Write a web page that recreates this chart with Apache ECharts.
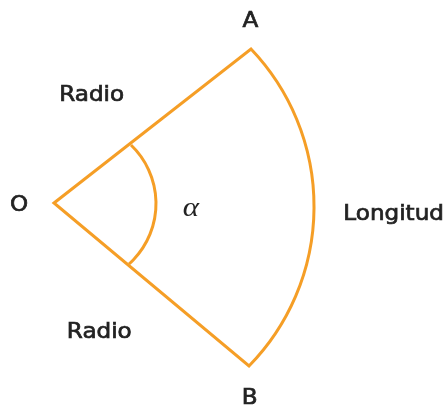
<!DOCTYPE html>
<html>
<head>
<meta charset="utf-8">
<script src="https://cdn.jsdelivr.net/npm/echarts@6/dist/echarts.min.js"></script>
<style>
html,body{margin:0;padding:0;background:#fff;}
#chart{width:448px;height:409px;}
</style>
</head>
<body>
<div id="chart"></div>
<script>
// Vertices of the sector (O = centre of the sector)
const vertexNames = ['O', 'A', 'B'];
const vertexX = [0, 197, 195];
const vertexY = [0, 154, -163];
// Outer arc (Longitud): start, middle, end
const bigArcX = [197, 260, 195];
const bigArcY = [154, -7, -163];
// Angle arc (alpha): start, middle, end
const smallArcX = [77, 102, 75];
const smallArcY = [58, 0, -61];
// Labels
const labelTexts = ['A', 'B', 'O', 'Radio', 'Radio', 'Longitud'];
const labelX = [196.5, 195.7, -35, 37.7, 45.3, 289.3];
const labelY = [183.7, -194, -1, 109.2, -127.8, -9.5];
const symbolText = ['α'];
const symbolX = [136.8];
const symbolY = [-4.5];

const ORANGE = '#F59E26';
const TEXT = '#222222';

function circle3(p1, p2, p3) {
  const [ax, ay] = p1, [bx, by] = p2, [cx, cy] = p3;
  const d = 2 * (ax * (by - cy) + bx * (cy - ay) + cx * (ay - by));
  const a2 = ax * ax + ay * ay, b2 = bx * bx + by * by, c2 = cx * cx + cy * cy;
  const ux = (a2 * (by - cy) + b2 * (cy - ay) + c2 * (ay - by)) / d;
  const uy = (a2 * (cx - bx) + b2 * (ax - cx) + c2 * (bx - ax)) / d;
  return { x: ux, y: uy, r: Math.hypot(ax - ux, ay - uy) };
}
function arcCmd(p1, p2, p3) {
  const c = circle3(p1, p2, p3);
  const cross = (p2[0] - p1[0]) * (p3[1] - p2[1]) - (p2[1] - p1[1]) * (p3[0] - p2[0]);
  const sweep = cross > 0 ? 1 : 0;
  const side = (P) => Math.sign((p3[0] - p1[0]) * (P[1] - p1[1]) - (p3[1] - p1[1]) * (P[0] - p1[0]));
  const large = side([c.x, c.y]) === side(p2) ? 1 : 0;
  return 'A ' + c.r + ' ' + c.r + ' 0 ' + large + ' ' + sweep + ' ' + p3[0] + ' ' + p3[1];
}

const chart = echarts.init(document.getElementById('chart'), null, { renderer: 'canvas' });

const option = {
  backgroundColor: '#ffffff',
  animation: false,
  grid: { left: 0, right: 0, top: 0, bottom: 0 },
  xAxis: { type: 'value', min: -54, max: 394, show: false },
  yAxis: { type: 'value', min: -206, max: 203, show: false },
  series: [
    {
      type: 'custom',
      name: 'sector',
      data: [[vertexX[0], vertexY[0]]],
      clip: false,
      renderItem: function (params, api) {
        const O = api.coord([vertexX[0], vertexY[0]]);
        const A = api.coord([vertexX[1], vertexY[1]]);
        const B = api.coord([vertexX[2], vertexY[2]]);
        const M = api.coord([bigArcX[1], bigArcY[1]]);
        const path = 'M ' + O[0] + ' ' + O[1] + ' L ' + A[0] + ' ' + A[1] + ' ' +
          arcCmd(A, M, B) + ' Z';
        return {
          type: 'path',
          shape: { pathData: path },
          style: { fill: 'none', stroke: ORANGE, lineWidth: 3, lineJoin: 'miter', miterLimit: 10 }
        };
      }
    },
    {
      type: 'custom',
      name: 'angle',
      data: [[smallArcX[0], smallArcY[0]]],
      clip: false,
      renderItem: function (params, api) {
        const S = api.coord([smallArcX[0], smallArcY[0]]);
        const M = api.coord([smallArcX[1], smallArcY[1]]);
        const E = api.coord([smallArcX[2], smallArcY[2]]);
        const path = 'M ' + S[0] + ' ' + S[1] + ' ' + arcCmd(S, M, E);
        return {
          type: 'path',
          shape: { pathData: path },
          style: { fill: 'none', stroke: ORANGE, lineWidth: 3, lineCap: 'butt' }
        };
      }
    },
    {
      type: 'custom',
      name: 'labels',
      data: labelTexts.map((t, i) => [labelX[i], labelY[i]]),
      clip: false,
      renderItem: function (params, api) {
        const i = params.dataIndex;
        const p = api.coord([api.value(0), api.value(1)]);
        const isLeft = labelTexts[i] === 'Longitud';
        return {
          type: 'text',
          x: p[0], y: p[1] + 2,
          scaleX: 1.1,
          style: {
            text: labelTexts[i],
            fill: TEXT,
            stroke: TEXT,
            lineWidth: 0.7,
            font: '21px "DejaVu Sans"',
            align: isLeft ? 'left' : 'center',
            verticalAlign: 'middle'
          }
        };
      }
    },
    {
      type: 'custom',
      name: 'symbol',
      data: symbolText.map((t, i) => [symbolX[i], symbolY[i]]),
      clip: false,
      renderItem: function (params, api) {
        const i = params.dataIndex;
        const p = api.coord([api.value(0), api.value(1)]);
        return {
          type: 'text',
          x: p[0], y: p[1] + 1,
          scaleX: 1.15,
          style: {
            text: symbolText[i],
            fill: '#222222',
            font: 'italic 27px "Liberation Serif"',
            align: 'center',
            verticalAlign: 'middle'
          }
        };
      }
    }
  ]
};
chart.setOption(option);
</script>
</body>
</html>
